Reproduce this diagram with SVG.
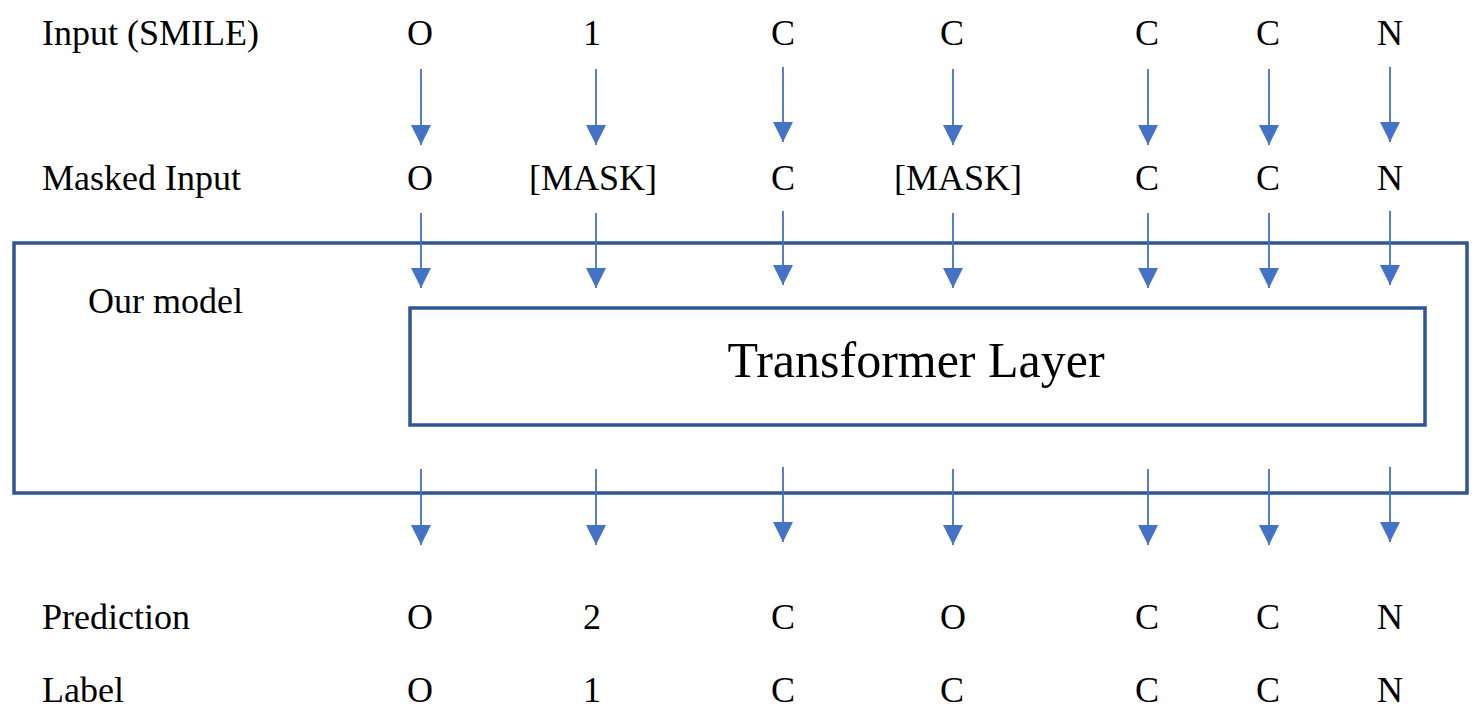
<svg xmlns="http://www.w3.org/2000/svg" width="1481" height="724" viewBox="0 0 1481 724">
<style>
  text { font-family: "Liberation Serif", "Times New Roman", serif; font-size: 36px; fill: #000; }
  .c { text-anchor: middle; }
  .box { fill: none; stroke: #2F5597; stroke-width: 3.5; }
  .arr { stroke: #4472C4; stroke-width: 1.8; marker-end: url(#ah); }
</style>
<defs>
  <marker id="ah" markerUnits="userSpaceOnUse" markerWidth="20" markerHeight="20" viewBox="0 -10 20 20" refX="20" refY="0" orient="auto">
    <path d="M0,-10 L20,0 L0,10 z" fill="#4472C4"/>
  </marker>
</defs>
<rect x="0" y="0" width="1481" height="724" fill="#fff"/>

<g id="labels">
  <text x="42" y="45">Input (SMILE)</text>
  <text x="42" y="190">Masked Input</text>
  <text x="42" y="629">Prediction</text>
  <text x="42" y="702">Label</text>
</g>

<g id="our-model">
  <rect class="box" x="14" y="243" width="1453" height="250"/>
  <text x="88" y="313">Our model</text>
</g>

<g id="transformer-layer">
  <rect class="box" x="410" y="308" width="1015" height="117"/>
  <text class="c" x="916" y="377" style="font-size:50px">Transformer Layer</text>
</g>

<g id="row-input">
  <text class="c" x="420" y="45">O</text>
  <text class="c" x="592" y="45">1</text>
  <text class="c" x="783" y="45">C</text>
  <text class="c" x="952" y="45">C</text>
  <text class="c" x="1147" y="45">C</text>
  <text class="c" x="1268" y="45">C</text>
  <text class="c" x="1390" y="45">N</text>
</g>

<g id="row-masked">
  <text class="c" x="420" y="190">O</text>
  <text class="c" x="593" y="190">[MASK]</text>
  <text class="c" x="783" y="190">C</text>
  <text class="c" x="958" y="190">[MASK]</text>
  <text class="c" x="1147" y="190">C</text>
  <text class="c" x="1268" y="190">C</text>
  <text class="c" x="1390" y="190">N</text>
</g>

<g id="row-prediction">
  <text class="c" x="420" y="629">O</text>
  <text class="c" x="592" y="629">2</text>
  <text class="c" x="783" y="629">C</text>
  <text class="c" x="953" y="629">O</text>
  <text class="c" x="1147" y="629">C</text>
  <text class="c" x="1268" y="629">C</text>
  <text class="c" x="1390" y="629">N</text>
</g>

<g id="row-label">
  <text class="c" x="420" y="702">O</text>
  <text class="c" x="592" y="702">1</text>
  <text class="c" x="783" y="702">C</text>
  <text class="c" x="952" y="702">C</text>
  <text class="c" x="1147" y="702">C</text>
  <text class="c" x="1268" y="702">C</text>
  <text class="c" x="1390" y="702">N</text>
</g>

<g id="connectors">
  <line class="arr" x1="421" y1="69" x2="421" y2="145"/>
  <line class="arr" x1="596" y1="69" x2="596" y2="145"/>
  <line class="arr" x1="783" y1="67" x2="783" y2="142"/>
  <line class="arr" x1="953" y1="69" x2="953" y2="145"/>
  <line class="arr" x1="1148" y1="69" x2="1148" y2="145"/>
  <line class="arr" x1="1269" y1="69" x2="1269" y2="145"/>
  <line class="arr" x1="1390" y1="67" x2="1390" y2="142"/>

  <line class="arr" x1="421" y1="213" x2="421" y2="288"/>
  <line class="arr" x1="596" y1="213" x2="596" y2="288"/>
  <line class="arr" x1="783" y1="211" x2="783" y2="285"/>
  <line class="arr" x1="953" y1="213" x2="953" y2="288"/>
  <line class="arr" x1="1148" y1="213" x2="1148" y2="288"/>
  <line class="arr" x1="1269" y1="213" x2="1269" y2="288"/>
  <line class="arr" x1="1390" y1="211" x2="1390" y2="285"/>

  <line class="arr" x1="421" y1="469" x2="421" y2="545"/>
  <line class="arr" x1="596" y1="469" x2="596" y2="545"/>
  <line class="arr" x1="783" y1="467" x2="783" y2="542"/>
  <line class="arr" x1="953" y1="469" x2="953" y2="545"/>
  <line class="arr" x1="1148" y1="469" x2="1148" y2="545"/>
  <line class="arr" x1="1269" y1="469" x2="1269" y2="545"/>
  <line class="arr" x1="1390" y1="467" x2="1390" y2="542"/>
</g>
</svg>
